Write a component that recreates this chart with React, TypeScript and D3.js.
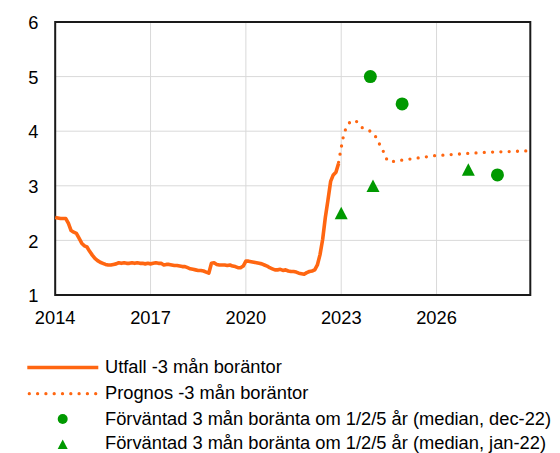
import React, { useEffect } from "react";
import * as d3 from "d3";

const yearTicks = [2014, 2017, 2020, 2023, 2026];
const yTicks = [1, 2, 3, 4, 5, 6];

// Utfall, monthly from Jan 2014
const outcomeStartYear = 2014;
const outcomeValues = [
  2.42, 2.41, 2.40, 2.40, 2.40, 2.31, 2.18, 2.15, 2.13, 2.04, 1.95, 1.90,
  1.88, 1.80, 1.73, 1.67, 1.63, 1.60, 1.58, 1.56, 1.55, 1.55, 1.56, 1.57,
  1.59, 1.58, 1.59, 1.58, 1.58, 1.59, 1.58, 1.59, 1.58, 1.58, 1.57, 1.58,
  1.57, 1.58, 1.59, 1.58, 1.58, 1.55, 1.56, 1.56, 1.55, 1.54, 1.54, 1.53,
  1.52, 1.52, 1.50, 1.48, 1.47, 1.46, 1.45, 1.45, 1.44, 1.42, 1.40, 1.58,
  1.59, 1.56, 1.55, 1.55, 1.55, 1.54, 1.55, 1.53, 1.52, 1.50, 1.50, 1.53,
  1.62, 1.62, 1.61, 1.60, 1.59, 1.58, 1.57, 1.55, 1.53, 1.50, 1.48, 1.46,
  1.46, 1.47, 1.45, 1.46, 1.44, 1.43, 1.43, 1.42, 1.40, 1.39, 1.38, 1.41,
  1.43, 1.44, 1.46, 1.55, 1.74, 2.02, 2.42, 2.74, 3.08, 3.20, 3.25, 3.41,
];

// Prognos
const forecastMonths = [
  "2022-12", "2023-01", "2023-02", "2023-03", "2023-04", "2023-05", "2023-06",
  "2023-07", "2023-08", "2023-09", "2023-10", "2023-11", "2023-12", "2024-01",
  "2024-02", "2024-03", "2024-04", "2024-05", "2024-06", "2024-07", "2024-08",
  "2024-12", "2025-06", "2025-12", "2026-06", "2026-12", "2027-06", "2027-12",
  "2028-06", "2028-11",
];
const forecastValues = [
  3.43, 3.70, 3.95, 4.08, 4.15, 4.19, 4.20,
  4.17, 4.12, 4.06, 4.04, 4.02, 4.00, 3.97,
  3.90, 3.80, 3.72, 3.62, 3.50, 3.44, 3.44,
  3.47, 3.51, 3.55, 3.57, 3.59, 3.61, 3.62,
  3.63, 3.64,
];

// Förväntad (median, dec-22)
const expDec22Months = ["2023-12", "2024-12", "2027-12"];
const expDec22Values = [5.0, 4.5, 3.2];
// Förväntad (median, jan-22)
const expJan22Months = ["2023-01", "2024-01", "2027-01"];
const expJan22Values = [2.5, 3.0, 3.3];

const legendLabels = [
  "Utfall -3 mån boräntor",
  "Prognos -3 mån boräntor",
  "Förväntad 3 mån boränta om 1/2/5 år (median, dec-22)",
  "Förväntad 3 mån boränta om 1/2/5 år (median, jan-22)",
];

const ORANGE = "#ff6611";
const GREEN = "#009900";
const FONT = "'Liberation Sans', Arial, sans-serif";
const FS = 18.3;

const toYear = (s: string) => {
  const [y, m] = s.split("-").map(Number);
  return y + (m - 1) / 12;
};

export default function App() {
  useEffect(() => {
    document.body.style.margin = "0";
  }, []);

  const W = 560;
  const H = 453;
  const x = d3.scaleLinear().domain([2014, 2028.95]).range([55.2, 530.3]);
  const y = d3.scaleLinear().domain([1, 6]).range([295, 22]);

  const outcome = outcomeValues.map((v, i) => ({ t: outcomeStartYear + i / 12, v }));
  const forecast = forecastMonths.map((m, i) => ({ t: toYear(m), v: forecastValues[i] }));
  const line = d3
    .line<{ t: number; v: number }>()
    .x((d) => x(d.t))
    .y((d) => y(d.v));

  const tri = (cx: number, cy: number, w: number, h: number) =>
    `M${cx},${cy - h / 2}L${cx + w / 2},${cy + h / 2}L${cx - w / 2},${cy + h / 2}Z`;

  const [x0, x1] = x.range();
  const [yb, yt] = y.range();

  const legendY = [367.5, 393.7, 419, 444.2];
  const legendBase = [373.4, 399.2, 425.0, 449.0];

  return (
    <div style={{ position: "absolute", left: 0, top: 0 }}>
      <svg width={W} height={H} style={{ display: "block", background: "#fff" }}>
        {/* grid */}
        {yTicks.map((t) => (
          <line key={"gy" + t} x1={x0} x2={x1} y1={y(t)} y2={y(t)} stroke="#d9d9d9" strokeWidth={1} />
        ))}
        {yearTicks.map((t) => (
          <line key={"gx" + t} x1={x(t)} x2={x(t)} y1={yt} y2={yb} stroke="#d9d9d9" strokeWidth={1} />
        ))}
        {/* frame */}
        <rect x={x0} y={yt} width={x1 - x0} height={yb - yt} fill="none" stroke="#1a1a1a" strokeWidth={2} />

        {/* forecast dotted */}
        <path
          d={line(forecast) || ""}
          fill="none"
          stroke={ORANGE}
          strokeWidth={3.3}
          strokeLinecap="round"
          strokeDasharray="0 8.3"
        />
        {/* outcome */}
        <path d={line(outcome) || ""} fill="none" stroke={ORANGE} strokeWidth={3.6} strokeLinejoin="round" />

        {/* expectations */}
        {expDec22Months.map((m, i) => (
          <circle key={"c" + i} cx={x(toYear(m))} cy={y(expDec22Values[i])} r={6.5} fill={GREEN} />
        ))}
        {expJan22Months.map((m, i) => (
          <path key={"t" + i} d={tri(x(toYear(m)), y(expJan22Values[i]), 13, 12.5)} fill={GREEN} />
        ))}

        {/* y labels */}
        {yTicks.map((t) => (
          <text key={"yl" + t} x={38.5} y={y(t) + 7.2} textAnchor="end" fontFamily={FONT} fontSize={FS} fill="#000">
            {t}
          </text>
        ))}
        {/* x labels */}
        {yearTicks.map((t) => (
          <text key={"xl" + t} x={x(t)} y={324.3} textAnchor="middle" fontFamily={FONT} fontSize={FS} fill="#000">
            {t}
          </text>
        ))}

        {/* legend */}
        <line x1={27.3} x2={98.3} y1={legendY[0]} y2={legendY[0]} stroke={ORANGE} strokeWidth={3.6} />
        <line
          x1={29.3}
          x2={98}
          y1={legendY[1]}
          y2={legendY[1]}
          stroke={ORANGE}
          strokeWidth={3.3}
          strokeLinecap="round"
          strokeDasharray="0 8.3"
        />
        <circle cx={62.7} cy={legendY[2]} r={5} fill={GREEN} />
        <path d={tri(62.7, legendY[3], 10, 9.5)} fill={GREEN} />
        {legendLabels.map((l, i) => (
          <text key={"lg" + i} x={105} y={legendBase[i]} fontFamily={FONT} fontSize={FS} fill="#000">
            {l}
          </text>
        ))}
      </svg>
    </div>
  );
}
